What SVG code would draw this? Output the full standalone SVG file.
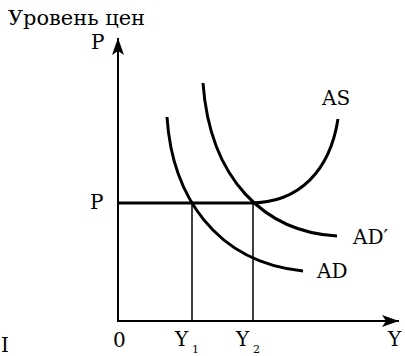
<svg xmlns="http://www.w3.org/2000/svg" width="405" height="356" viewBox="0 0 405 356" font-family="'DejaVu Serif', 'Liberation Serif', serif">
<style>
text{font-family:'DejaVu Serif','Liberation Serif',serif;fill:#000;font-size:20px}
.sub{font-size:11px}
.curve{fill:none;stroke:#000;stroke-width:3;stroke-linecap:butt}
.axis{fill:none;stroke:#000;stroke-width:2}
.guide{fill:none;stroke:#000;stroke-width:1.5}
</style>
<defs>
<marker id="arr" markerWidth="18" markerHeight="12" refX="17" refY="6" orient="auto" markerUnits="userSpaceOnUse">
<path d="M0,0 L17,6 L0,12 L4,6 Z" fill="#000"/>
</marker>
</defs>
<g id="labels">
<text x="8" y="25" font-size="20" textLength="137" lengthAdjust="spacingAndGlyphs">Уровень цен</text>
<text x="91" y="49">P</text>
<text x="90" y="209">P</text>
<text x="113" y="347">0</text>
<text x="1" y="352">I</text>
<text x="388" y="346">Y</text>
</g>
<g id="connectors">
<path class="axis" d="M118,322 L118,38" marker-end="url(#arr)"/>
<path class="axis" d="M117,321 L399,321" marker-end="url(#arr)"/>
<path class="guide" d="M192,203 L192,321"/>
<path class="guide" d="M253,203 L253,321"/>
</g>
<g id="AS">
<path class="curve" d="M118,203 L250,203 C300,203 330,170 338,119"/>
<text x="322" y="105">AS</text>
</g>
<g id="AD">
<path class="curve" d="M167,117 C172,195 215,262 303,271"/>
<text x="317" y="278">AD</text>
</g>
<g id="ADprime">
<path class="curve" d="M203,83 C210,180 265,232 337,236"/>
<text x="353" y="244">AD′</text>
</g>
<g id="Y1">
<text x="175" y="346">Y</text><text class="sub" x="192" y="353">1</text>
</g>
<g id="Y2">
<text x="236" y="346">Y</text><text class="sub" x="253" y="353">2</text>
</g>
</svg>
